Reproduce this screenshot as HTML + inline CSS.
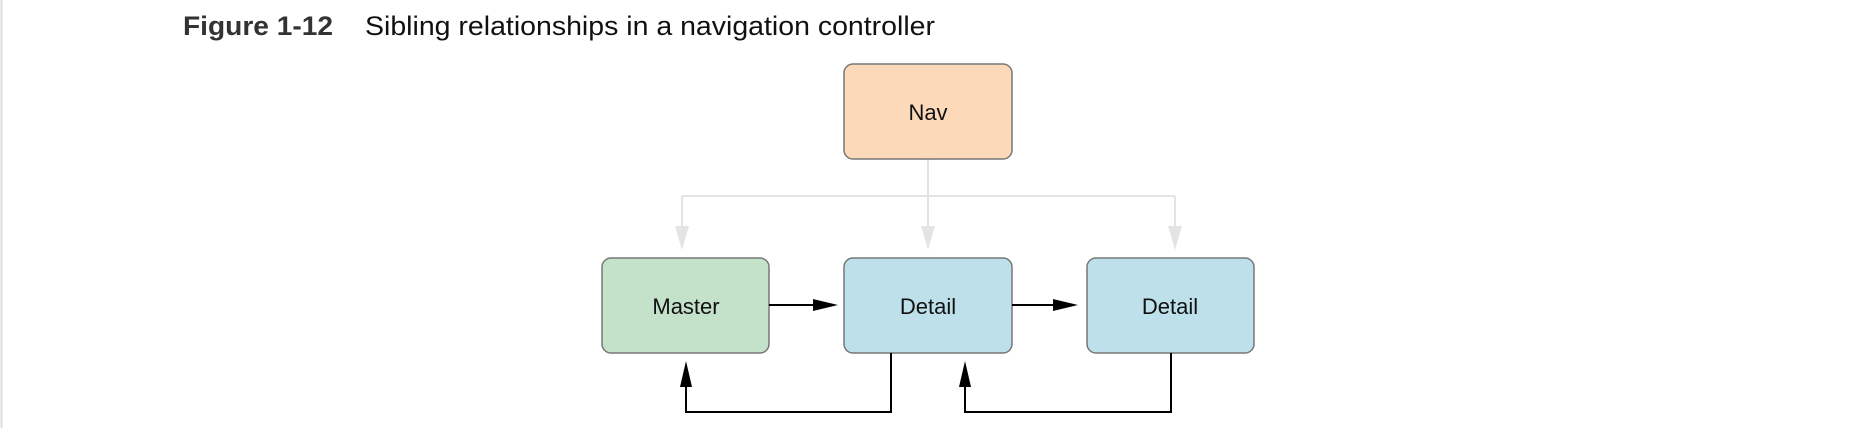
<!DOCTYPE html>
<html><head><style>
html,body{margin:0;padding:0;background:#fff;}
body{width:1856px;height:428px;overflow:hidden;}
</style></head><body>
<svg width="1856" height="428" xmlns="http://www.w3.org/2000/svg" font-family="Liberation Sans, sans-serif">
<defs>
<marker id="g" markerWidth="12" markerHeight="24" refX="6" refY="24" orient="auto" markerUnits="userSpaceOnUse"><path d="M0,0 L6,24 L12,0 Z" fill="#e6e6e6"/></marker>
</defs>
<line x1="1.5" y1="0" x2="1.5" y2="428" stroke="#ddd" stroke-width="2"/>
<text x="183" y="35" font-size="27" font-weight="bold" fill="#333" textLength="150" lengthAdjust="spacingAndGlyphs">Figure 1-12</text>
<text x="365" y="35" font-size="27" fill="#111" textLength="570" lengthAdjust="spacingAndGlyphs">Sibling relationships in a navigation controller</text>
<!-- gray tree -->
<g stroke="#e4e4e4" stroke-width="2" fill="none">
<line x1="928" y1="159" x2="928" y2="196"/>
<line x1="682" y1="196" x2="1175" y2="196"/>
</g>
<g fill="#e4e4e4">
<rect x="681" y="196" width="2" height="30"/><path d="M675,226 L689,226 L682,250 Z"/>
<rect x="927" y="196" width="2" height="30"/><path d="M921,226 L935,226 L928,250 Z"/>
<rect x="1174" y="196" width="2" height="30"/><path d="M1168,226 L1182,226 L1175,250 Z"/>
</g>
<!-- boxes -->
<g stroke="#777" stroke-width="1.5">
<rect x="844" y="64" width="168" height="95" rx="9" fill="#fbd9b9"/>
<rect x="602" y="258" width="167" height="95" rx="9" fill="#c4e1c9"/>
<rect x="844" y="258" width="168" height="95" rx="9" fill="#bde0eb"/>
<rect x="1087" y="258" width="167" height="95" rx="9" fill="#bde0eb"/>
</g>
<g font-size="22" fill="#111" text-anchor="middle">
<text x="928" y="120">Nav</text>
<text x="686" y="314">Master</text>
<text x="928" y="314">Detail</text>
<text x="1170" y="314">Detail</text>
</g>
<!-- black arrows -->
<g stroke="#000" stroke-width="2" fill="none">
<line x1="769" y1="305" x2="815" y2="305"/>
<line x1="1012" y1="305" x2="1055" y2="305"/>
<polyline points="891,353 891,412 686,412 686,385"/>
<polyline points="1171,353 1171,412 965,412 965,385"/>
</g>
<g fill="#000">
<path d="M813,299 L838,305 L813,311 Z"/>
<path d="M1053,299 L1078,305 L1053,311 Z"/>
<path d="M680,387 L686,361 L692,387 Z"/>
<path d="M959,387 L965,361 L971,387 Z"/>
</g>
</svg>
</body></html>
